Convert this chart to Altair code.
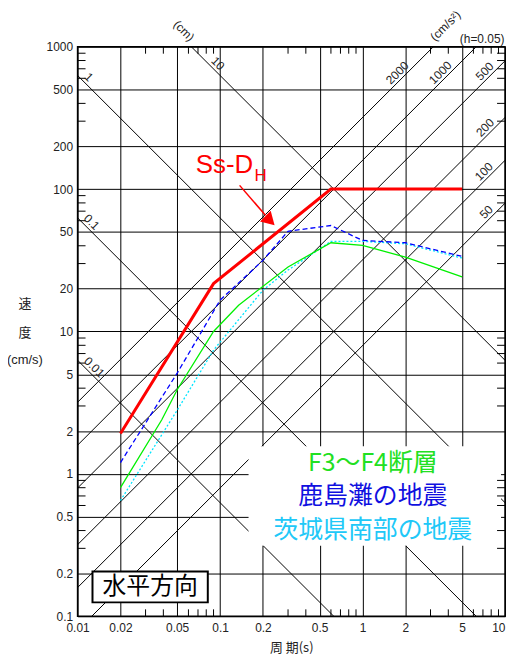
import math
import altair as alt
import pandas as pd

# ---------------- data ----------------
x_labels = [0.01, 0.02, 0.05, 0.1, 0.2, 0.5, 1, 2, 5, 10]
y_labels = [0.1, 0.2, 0.5, 1, 2, 5, 10, 20, 50, 100, 200, 500, 1000]
minor_steps = [3, 4, 6, 7, 8, 9]
x_decades = [0.01, 0.1, 1]
y_decades = [0.1, 1, 10, 100]

# displacement (cm) and acceleration (cm/s2) guide lines
disp_values = [0.01, 0.1, 1, 10]
disp_names = ["0.01", "0.1", "1", "10"]
disp_label_T = [0.0121, 0.0116, 0.0111, 0.0892]
acc_values = [50, 100, 200, 500, 1000, 2000]
acc_names = ["50", "100", "200", "500", "1000", "2000"]
acc_label_T = [8.0, 7.7, 7.85, 7.8, 3.81, 1.9]

# spectra (period s, velocity cm/s)
ss_T = [0.02, 0.09, 0.6, 5.0]
ss_V = [1.92, 21.7, 100, 100]
f34_T = [0.02, 0.039, 0.05, 0.09, 0.135, 0.3, 0.6, 1.0, 2.0, 5.0]
f34_V = [0.8, 2.4, 3.9, 10, 15.3, 28.4, 42, 40.2, 33.3, 24.2]
kashima_T = [0.02, 0.05, 0.1, 0.2, 0.3, 0.6, 1.0, 2.0, 5.0]
kashima_V = [1.2, 5.1, 16.6, 31.6, 50.6, 55.5, 43.6, 42.0, 33.7]
ibaraki_T = [0.02, 0.05, 0.09, 0.2, 0.3, 0.6, 1.0, 2.0, 5.0]
ibaraki_V = [0.65, 2.8, 7.4, 19.5, 27.0, 43.0, 43.0, 41.3, 32.8]

# ---------------- layout ----------------
W, H = 430, 573
LATIN = "Liberation Sans"
CJK = "Noto Sans CJK JP"
TWO_PI = 2 * math.pi
T_MIN, T_MAX = x_labels[0], x_labels[-1]

xs = alt.Scale(type="log", domain=[T_MIN, T_MAX])
ys = alt.Scale(type="log", domain=[y_labels[0], y_labels[-1]])

x_axis = alt.Axis(values=x_labels, grid=True, gridColor="#000", gridWidth=1,
                  ticks=False, domain=False, format="~g", labelOverlap=False,
                  labelFlush=False, labelFont=LATIN, labelFontSize=12,
                  labelColor="#222", labelPadding=6,
                  labelAlign={"condition": {"test": "datum.value >= 10",
                                            "value": "right"},
                              "value": "center"},
                  title="周   期(s)", titleFont=CJK, titleFontSize=13,
                  titleFontWeight="normal", titleColor="#222",
                  titleX=W / 2, titleY=31, titleBaseline="middle")
y_axis = alt.Axis(values=y_labels, grid=True, gridColor="#000", gridWidth=1,
                  ticks=False, domain=False, format="~g", labelOverlap=False,
                  labelFlush=False, labelFont=LATIN, labelFontSize=12,
                  labelColor="#222", labelPadding=5, title="")


def X():
    return alt.X("T:Q", scale=xs, axis=x_axis)


def Y():
    return alt.Y("V:Q", scale=ys, axis=y_axis)


one = pd.DataFrame({"k": [0]})

# diagonal lines
rows = []
for d in disp_values:
    for t in (T_MIN, T_MAX):
        rows.append({"id": f"d{d}", "T": t, "V": TWO_PI * d / t})
for a in acc_values:
    for t in (T_MIN, T_MAX):
        rows.append({"id": f"a{a}", "T": t, "V": a * t / TWO_PI})
diag_df = pd.DataFrame(rows)

disp_lab = pd.DataFrame({
    "T": disp_label_T,
    "V": [TWO_PI * d / t for d, t in zip(disp_values, disp_label_T)],
    "txt": disp_names,
})
acc_lab = pd.DataFrame({
    "T": acc_label_T,
    "V": [a * t / TWO_PI for a, t in zip(acc_values, acc_label_T)],
    "txt": acc_names,
})

x_minor = pd.DataFrame({"T": [d * m for d in x_decades for m in minor_steps]})
y_minor = pd.DataFrame({"V": [d * m for d in y_decades for m in minor_steps]})

diag = alt.Chart(diag_df).mark_line(color="#000", strokeWidth=1, clip=True).encode(
    x=X(), y=Y(), detail="id:N")

disp_text = alt.Chart(disp_lab).mark_text(
    angle=45, baseline="bottom", align="center", font=LATIN, fontSize=12,
    color="#222").encode(x=X(), y=Y(), text="txt:N")
acc_text = alt.Chart(acc_lab).mark_text(
    angle=315, baseline="bottom", align="center", font=LATIN, fontSize=12,
    color="#222").encode(x=X(), y=Y(), text="txt:N")

legend_box = alt.Chart(one).mark_rect(fill="white", stroke=None).encode(
    x=alt.value(172), x2=alt.value(426), y=alt.value(402), y2=alt.value(502))

tick_len = 7
xt_bottom = alt.Chart(x_minor).mark_rule(color="#000", strokeWidth=1).encode(
    x=X(), y=alt.value(H), y2=alt.value(H - tick_len))
xt_top = alt.Chart(x_minor).mark_rule(color="#000", strokeWidth=1).encode(
    x=X(), y=alt.value(0), y2=alt.value(tick_len))
yt_left = alt.Chart(y_minor).mark_rule(color="#000", strokeWidth=1).encode(
    y=Y(), x=alt.value(0), x2=alt.value(tick_len + 1))
yt_right = alt.Chart(y_minor).mark_rule(color="#000", strokeWidth=1).encode(
    y=Y(), x=alt.value(W), x2=alt.value(W - tick_len - 1))


def curve(T, V, **kw):
    df = pd.DataFrame({"T": T, "V": V})
    return alt.Chart(df).mark_line(**kw).encode(x=X(), y=Y())


ibaraki = curve(ibaraki_T, ibaraki_V, color="#00e5ff", strokeWidth=1.3,
                strokeDash=[2, 2])
kashima = curve(kashima_T, kashima_V, color="#0000ff", strokeWidth=1.3,
                strokeDash=[5, 3])
f34 = curve(f34_T, f34_V, color="#00f000", strokeWidth=1.3)
ss = curve(ss_T, ss_V, color="#ff0000", strokeWidth=3)


def px_text(txt, x, y, **kw):
    return alt.Chart(one).mark_text(text=txt, **kw).encode(
        x=alt.value(x), y=alt.value(y))


# Ss-DH label and arrow
ss_label = px_text("Ss-D", 119, 127, align="left", baseline="alphabetic",
                   font=LATIN, fontSize=26, color="#ff0000")
ss_sub = px_text("H", 178, 135, align="left", baseline="alphabetic",
                 font=LATIN, fontSize=17, color="#ff0000")
arrow_line = alt.Chart(one).mark_rule(color="#ff0000", strokeWidth=1.5).encode(
    x=alt.value(163), y=alt.value(139.5), x2=alt.value(189), y2=alt.value(169.5))
arrow_head = alt.Chart(one).mark_point(shape="triangle", angle=135, size=230,
                                       filled=True, color="#ff0000",
                                       opacity=1).encode(
    x=alt.value(192), y=alt.value(173.5))

# unit labels outside the plot
cm_lab = px_text("(cm)", 107, -16, angle=45, align="center", baseline="middle",
                 font=LATIN, fontSize=12, color="#222")
acc_unit = px_text("(cm/s²)", 370, -21, angle=315, align="center",
                   baseline="middle", font=LATIN, fontSize=12, color="#222")
h_lab = px_text("(h=0.05)", 407, -7.5, align="center", baseline="middle",
                font=LATIN, fontSize=12, color="#222")

# y-axis title stacked
yt1 = px_text("速", -53, 259, align="center", baseline="middle", font=CJK,
              fontSize=13, color="#222")
yt2 = px_text("度", -53, 288, align="center", baseline="middle", font=CJK,
              fontSize=13, color="#222")
yt3 = px_text("(cm/s)", -53, 315, align="center", baseline="middle", font=LATIN,
              fontSize=13, color="#222")

# 水平方向 box
hbox = alt.Chart(one).mark_rect(fill="white", stroke="#000", strokeWidth=2).encode(
    x=alt.value(15), x2=alt.value(131), y=alt.value(528), y2=alt.value(559))
htxt = px_text("水平方向", 73, 544, align="center", baseline="middle", font=CJK,
               fontSize=24, color="#000")

# legend texts
lg1 = px_text("F3～F4断層", 297, 419, align="center", baseline="middle",
              font=CJK, fontSize=25, color="#22e022")
lg2 = px_text("鹿島灘の地震", 297, 452, align="center", baseline="middle",
              font=CJK, fontSize=25, color="#1010e0")
lg3 = px_text("茨城県南部の地震", 297, 486, align="center", baseline="middle",
              font=CJK, fontSize=25, color="#20c8f8")

chart = alt.layer(
    diag, disp_text, acc_text, legend_box,
    xt_bottom, xt_top, yt_left, yt_right,
    ibaraki, kashima, f34, ss,
    ss_label, ss_sub, arrow_line, arrow_head,
    cm_lab, acc_unit, h_lab, yt1, yt2, yt3,
    hbox, htxt, lg1, lg2, lg3,
).properties(
    width=W, height=H,
    autosize=alt.AutoSizeParams(type="none"),
    padding={"left": 70, "top": 37, "right": 1, "bottom": 38},
).configure_view(stroke="#000", strokeWidth=1.5)

chart.save("out.html", embed_options={"renderer": "svg", "actions": False})
